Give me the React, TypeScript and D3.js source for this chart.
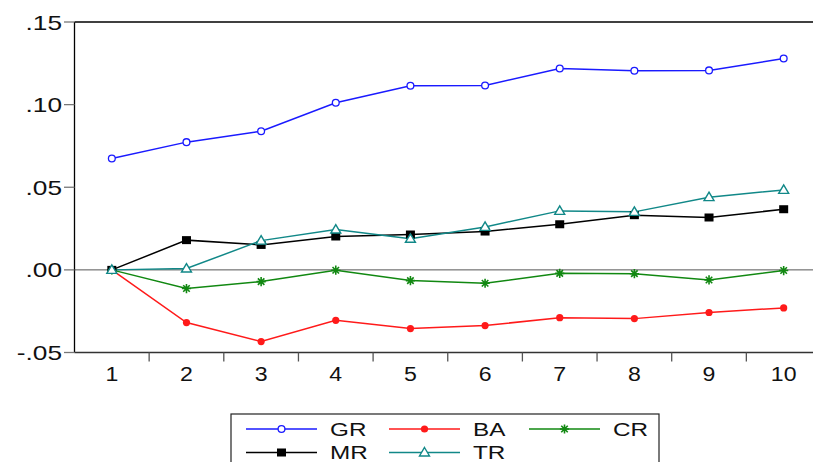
import React from "react";
import * as d3 from "d3";

const periods = [1, 2, 3, 4, 5, 6, 7, 8, 9, 10];
const GR = [0.0674, 0.0773, 0.0839, 0.1011, 0.1114, 0.1116, 0.1219, 0.1205, 0.1207, 0.1279];
const BA = [0, -0.0319, -0.0434, -0.0305, -0.0355, -0.0337, -0.0289, -0.0295, -0.0258, -0.023];
const CR = [0, -0.0113, -0.0071, -0.0002, -0.0065, -0.0081, -0.0021, -0.0023, -0.0061, -0.0004];
const MR = [0, 0.018, 0.0151, 0.0202, 0.0214, 0.0232, 0.0276, 0.0331, 0.0317, 0.0367];
const TR = [0, 0.0008, 0.0177, 0.0244, 0.0188, 0.026, 0.0357, 0.0351, 0.044, 0.0484];
const yTicks = [-0.05, 0, 0.05, 0.1, 0.15];
const yTickLabels = ["-.05", ".00", ".05", ".10", ".15"];

type Marker = "openCircle" | "dot" | "star" | "square" | "triangle";
const series: { name: string; values: number[]; color: string; marker: Marker }[] = [
  { name: "GR", values: GR, color: "#1a1aff", marker: "openCircle" },
  { name: "BA", values: BA, color: "#ff1a1a", marker: "dot" },
  { name: "CR", values: CR, color: "#118811", marker: "star" },
  { name: "MR", values: MR, color: "#000000", marker: "square" },
  { name: "TR", values: TR, color: "#118888", marker: "triangle" },
];

const FONT = "'Liberation Sans', Arial, sans-serif";

function MarkerShape({ type, x, y, color }: { type: Marker; x: number; y: number; color: string }) {
  switch (type) {
    case "openCircle":
      return <circle cx={x} cy={y} r={3.4} fill="white" stroke={color} strokeWidth={1.3} />;
    case "dot":
      return <circle cx={x} cy={y} r={3.6} fill={color} />;
    case "square":
      return <rect x={x - 4.5} y={y - 4} width={9} height={8} fill={color} />;
    case "triangle":
      return (
        <path
          d={`M${x},${y - 5} L${x + 5},${y + 3.5} L${x - 5},${y + 3.5} Z`}
          fill="white"
          stroke={color}
          strokeWidth={1.4}
        />
      );
    case "star": {
      const r = 4.6;
      const parts = [0, 45, 90, 135].map((a) => {
        const rad = (a * Math.PI) / 180;
        const dx = r * Math.cos(rad);
        const dy = r * Math.sin(rad);
        return `M${x - dx},${y - dy} L${x + dx},${y + dy}`;
      });
      return <path d={parts.join(" ")} stroke={color} strokeWidth={1.6} fill="none" />;
    }
  }
}

function WideText({
  x,
  y,
  sx,
  size,
  anchor,
  children,
}: {
  x: number;
  y: number;
  sx: number;
  size: number;
  anchor: "start" | "middle" | "end";
  children: React.ReactNode;
}) {
  return (
    <text
      transform={`translate(${x},${y}) scale(${sx},1)`}
      textAnchor={anchor}
      fontSize={size}
      fill="#111"
    >
      {children}
    </text>
  );
}

export default function App() {
  const left = 74.5;
  const bandW = 74.65;
  const x = d3.scaleLinear().domain([0.5, 10.5]).range([left, left + bandW * 10]);
  const y = d3.scaleLinear().domain([-0.05, 0.15]).range([352.5, 22]);
  const line = d3
    .line<number>()
    .x((_, i) => x(periods[i]))
    .y((d) => y(d));

  const xBoundaries = d3.range(1.5, 10.5, 1);

  const legendRows = [
    [series[0], series[1], series[2]],
    [series[3], series[4]],
  ];
  const legendColX = [246, 389, 529];
  const legendRowY = [429, 452.5];

  return (
    <svg
      width={813}
      height={462}
      style={{ position: "absolute", left: 0, top: 0, background: "white" }}
      fontFamily={FONT}
    >
      {/* zero line */}
      <line x1={left} x2={813} y1={y(0)} y2={y(0)} stroke="#555" strokeWidth={1} />
      {/* frame */}
      <line x1={left} x2={813} y1={22} y2={22} stroke="#000" strokeWidth={1.3} />
      <line x1={left} x2={left} y1={22} y2={352.5} stroke="#000" strokeWidth={1.3} />
      <line x1={left} x2={813} y1={352.5} y2={352.5} stroke="#333" strokeWidth={1.3} />
      {/* y ticks */}
      {yTicks.map((t, i) => (
        <g key={t}>
          <line x1={64} x2={left} y1={y(t)} y2={y(t)} stroke="#777" strokeWidth={1.3} />
          <WideText x={62} y={y(t) + 7.5} sx={1.25} size={21} anchor="end">
            {yTickLabels[i]}
          </WideText>
        </g>
      ))}
      {/* x ticks */}
      {xBoundaries.map((b) => (
        <line key={b} x1={x(b)} x2={x(b)} y1={352.5} y2={361.5} stroke="#555" strokeWidth={1.3} />
      ))}
      {periods.map((p) => (
        <WideText key={p} x={x(p)} y={381} sx={1.1} size={21} anchor="middle">
          {p}
        </WideText>
      ))}
      {/* series */}
      {series.map((s) => (
        <g key={s.name}>
          <path d={line(s.values) || ""} fill="none" stroke={s.color} strokeWidth={1.5} />
        </g>
      ))}
      {series.map((s) => (
        <g key={s.name + "m"}>
          {s.values.map((v, i) => (
            <MarkerShape key={i} type={s.marker} x={x(periods[i])} y={y(v)} color={s.color} />
          ))}
        </g>
      ))}
      {/* legend */}
      <rect x={231} y={414} width={428} height={60} fill="white" stroke="#222" strokeWidth={1.2} />
      {legendRows.map((row, ri) =>
        row.map((s, ci) => {
          const lx = legendColX[ci];
          const ly = legendRowY[ri];
          return (
            <g key={s.name}>
              <line x1={lx} x2={lx + 71} y1={ly} y2={ly} stroke={s.color} strokeWidth={1.4} />
              <MarkerShape type={s.marker} x={lx + 35.5} y={ly} color={s.color} />
              <WideText x={lx + 84} y={ly + 6.5} sx={1.35} size={18} anchor="start">
                {s.name}
              </WideText>
            </g>
          );
        })
      )}
    </svg>
  );
}
